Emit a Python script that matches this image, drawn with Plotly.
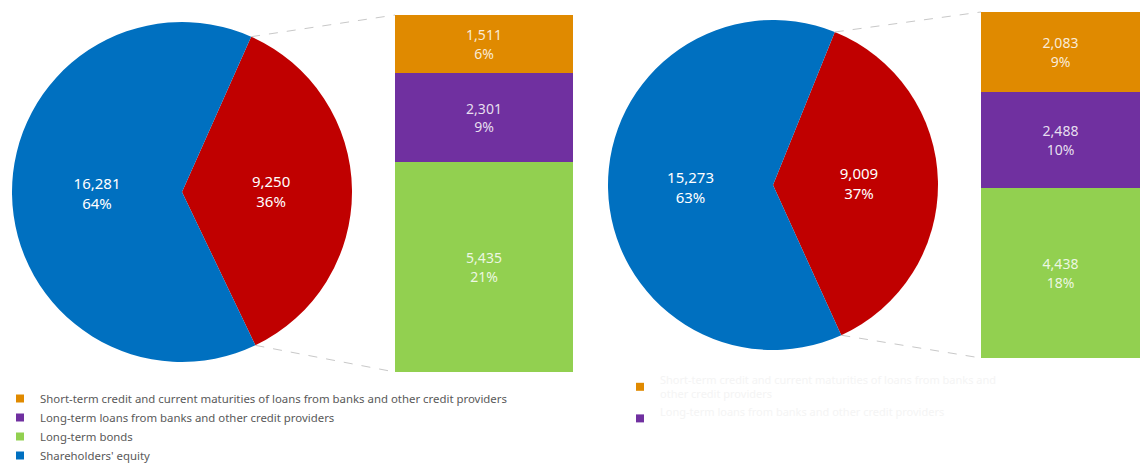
import math
import plotly.graph_objects as go

W, H = 1140, 466

# ---------------- data ----------------
pie_labels = ["Liabilities", "Shareholders' equity"]
left_pie_values = [9250, 16281]
right_pie_values = [9009, 15273]

bar_categories = [
    "Short-term credit and current maturities of loans from banks and other credit providers",
    "Long-term loans from banks and other credit providers",
    "Long-term bonds",
]
left_bar_values = [1511, 2301, 5435]
right_bar_values = [2083, 2488, 4438]
equity_label = "Shareholders' equity"

# ---------------- style ----------------
pie_colors = ["#C00000", "#0070C0"]
bar_colors = ["#E08A00", "#7030A0", "#92D050"]
FONT = "Noto Sans"

# geometry in pixels (x0, x1, y0_top, y1_bottom)
left_pie_px = (12, 352, 22, 362)
right_pie_px = (608, 938, 20, 350)
left_bar_px = (395, 573, 15, 372)
right_bar_px = (981, 1140, 12, 358)
left_rot, right_rot = 24, 22
legend_top_px = 384


def xd(px):
    return px / W


def yd(py):
    return 1 - py / H


fig = go.Figure()


def add_pie(values, box, rot):
    x0, x1, y0, y1 = box
    fig.add_trace(go.Pie(
        labels=pie_labels, values=values, sort=False, direction="clockwise",
        rotation=rot, marker=dict(colors=pie_colors, line=dict(width=0)),
        domain=dict(x=[xd(x0), xd(x1)], y=[yd(y1), yd(y0)]),
        texttemplate="%{value:,}<br>%{percent:.0%}", textposition="inside",
        insidetextorientation="horizontal",
        insidetextfont=dict(color="white", size=15, family=FONT),
        showlegend=False, hoverinfo="label+value+percent",
    ))


add_pie(left_pie_values, left_pie_px, left_rot)
add_pie(right_pie_values, right_pie_px, right_rot)


def add_bars(values, total, xa, ya):
    for cat, v, c in reversed(list(zip(bar_categories, values, bar_colors))):
        fig.add_trace(go.Bar(
            x=[0], y=[v], width=[1], name=cat, marker=dict(color=c, line=dict(width=0)),
            text=[f"{v:,}<br>{round(100 * v / total)}%"], textposition="inside",
            insidetextanchor="middle", textangle=0,
            insidetextfont=dict(color="rgba(255,255,255,0.85)", size=14, family=FONT),
            xaxis=xa, yaxis=ya, showlegend=False,
        ))


add_bars(left_bar_values, sum(left_pie_values), "x", "y")
add_bars(right_bar_values, sum(right_pie_values), "x2", "y2")

# legend entries
for i, (cat, c) in enumerate(zip(bar_categories, bar_colors)):
    fig.add_trace(go.Scatter(x=[None], y=[None], mode="markers", name=cat,
                             marker=dict(symbol="square", size=8, color=c),
                             legend="legend", legendrank=i + 1, xaxis="x", yaxis="y"))
fig.add_trace(go.Scatter(x=[None], y=[None], mode="markers", name=equity_label,
                         marker=dict(symbol="square", size=8, color=pie_colors[1]),
                         legend="legend", legendrank=4, xaxis="x", yaxis="y"))
wrapped = [
    "Short-term credit and current maturities of loans from banks and<br>other credit providers",
    "Long-term loans from banks and other credit providers<br> ",
]
for i, (cat, c) in enumerate(zip(wrapped, bar_colors[:2])):
    fig.add_trace(go.Scatter(x=[None], y=[None], mode="markers", name=cat,
                             marker=dict(symbol="square", size=8, color=c),
                             legend="legend2", legendrank=i + 1, xaxis="x2", yaxis="y2"))


def axes(box, total):
    x0, x1, y0, y1 = box
    xa = dict(domain=[xd(x0), min(1, xd(x1))], range=[-0.5, 0.5], visible=False, fixedrange=True)
    ya = dict(domain=[yd(y1), yd(y0)], range=[0, total], visible=False, fixedrange=True)
    return xa, ya


xa1, ya1 = axes(left_bar_px, sum(left_bar_values))
xa2, ya2 = axes(right_bar_px, sum(right_bar_values))
ya2["anchor"] = "x2"
xa2["anchor"] = "y2"


# connector lines from pie slice boundaries to bar corners
def connectors(pie_box, bar_box, rot, share):
    x0, x1, y0, y1 = pie_box
    cx, cy = (x0 + x1) / 2, (y0 + y1) / 2
    r = min(x1 - x0, y1 - y0) / 2
    a1 = math.radians(rot)
    a2 = math.radians(rot + 360 * share)
    pts = [(cx + r * math.sin(a1), cy - r * math.cos(a1)), (cx + r * math.sin(a2), cy - r * math.cos(a2))]
    corners = [(bar_box[0], bar_box[2]), (bar_box[0], bar_box[3])]
    shapes = []
    for (px, py), (bx, by) in zip(pts, corners):
        shapes.append(dict(type="line", xref="paper", yref="paper", x0=xd(px), y0=yd(py),
                           x1=xd(bx), y1=yd(by), line=dict(color="#C8C8C8", width=1, dash="dash")))
    return shapes


shapes = connectors(left_pie_px, left_bar_px, left_rot, left_pie_values[0] / sum(left_pie_values))
shapes += connectors(right_pie_px, right_bar_px, right_rot, right_pie_values[0] / sum(right_pie_values))

fig.update_layout(
    width=W, height=H, margin=dict(l=0, r=0, t=0, b=0),
    paper_bgcolor="white", plot_bgcolor="white",
    barmode="stack", bargap=0,
    xaxis=xa1, yaxis=ya1, xaxis2=xa2, yaxis2=ya2,
    shapes=shapes,
    font=dict(family=FONT, color="#595959", size=11),
    legend=dict(x=0, y=yd(legend_top_px), xanchor="left", yanchor="top", bgcolor="rgba(0,0,0,0)",
                font=dict(size=11.4, color="#595959", family=FONT), itemwidth=30,
                tracegroupgap=0, traceorder="normal", maxheight=H - legend_top_px),
    legend2=dict(x=xd(620), y=yd(366), xanchor="left", yanchor="top", bgcolor="rgba(0,0,0,0)",
                 font=dict(size=11, color="#F4F4F4", family=FONT), itemwidth=30,
                 tracegroupgap=0, traceorder="normal"),
)

post = (
    "document.documentElement.style.overflow='hidden';"
    "document.body.style.margin='0';document.body.style.overflow='hidden';"
    "var g=document.getElementById('{plot_id}');g.style.overflow='hidden';"
    "g.querySelectorAll('.scrollbar').forEach(function(s){s.style.display='none';});"
)
fig.write_html("out.html", post_script=post, config={"displayModeBar": False})
